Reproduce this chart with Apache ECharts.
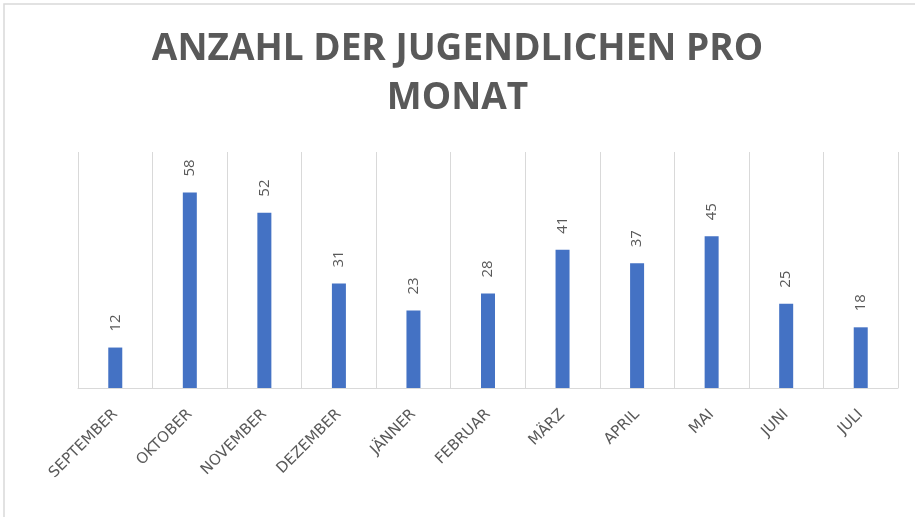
<!DOCTYPE html>
<html>
<head>
<meta charset="utf-8">
<title>Anzahl der Jugendlichen pro Monat</title>
<script src="https://cdn.jsdelivr.net/npm/echarts@6/dist/echarts.min.js"></script>
<style>
	html, body { margin: 0; padding: 0; background: #fff; }
	#mainChart { width: 915px; height: 517px; }
</style>
</head>
<body>
<div id="mainChart"></div>
<script>
"use strict";
// 数据
var titleText = 'ANZAHL DER JUGENDLICHEN PRO\nMONAT';
var months = [ 'SEPTEMBER', 'OKTOBER', 'NOVEMBER', 'DEZEMBER', 'JÄNNER',
		'FEBRUAR', 'MÄRZ', 'APRIL', 'MAI', 'JUNI', 'JULI' ];
var youthCounts = [ 12, 58, 52, 31, 23, 28, 41, 37, 45, 25, 18 ];
var valueMax = 70;

var textGray = '#595959';
var lineGray = '#d9d9d9';

var chart = echarts.init(document.getElementById('mainChart'));
var option = {
	backgroundColor : '#fff',
	animation : false,
	title : {
		text : titleText,
		left : 'center',
		top : 20,
		textStyle : {
			fontFamily : 'Open Sans',
			fontWeight : 'bold',
			fontSize : 37,
			lineHeight : 49,
			color : textGray
		}
	},
	// 外框
	graphic : [ {
		type : 'rect',
		shape : { x : 4, y : 4, width : 960, height : 560 },
		style : { fill : 'none', stroke : lineGray, lineWidth : 1.5 },
		silent : true
	} ],
	grid : {
		left : 78,
		right : 17,
		top : 152,
		bottom : 129
	},
	xAxis : {
		type : 'category',
		data : months,
		axisLine : { lineStyle : { color : lineGray, width : 1 } },
		axisTick : { show : false },
		splitLine : { show : true, lineStyle : { color : lineGray, width : 1 } },
		axisLabel : {
			rotate : 45,
			interval : 0,
			margin : 24,
			color : textGray,
			fontFamily : 'DejaVu Sans',
			fontSize : 15
		}
	},
	yAxis : {
		type : 'value',
		min : 0,
		max : valueMax,
		show : false,
		splitLine : { show : false }
	},
	series : [ {
		name : 'Jugendliche',
		type : 'bar',
		data : youthCounts,
		barWidth : 14,
		itemStyle : { color : '#4472C4' },
		label : {
			show : true,
			position : 'top',
			rotate : 90,
			align : 'left',
			verticalAlign : 'middle',
			distance : 16,
			color : textGray,
			fontFamily : 'Open Sans',
			fontSize : 15
		}
	} ]
};
chart.setOption(option);
</script>
</body>
</html>
